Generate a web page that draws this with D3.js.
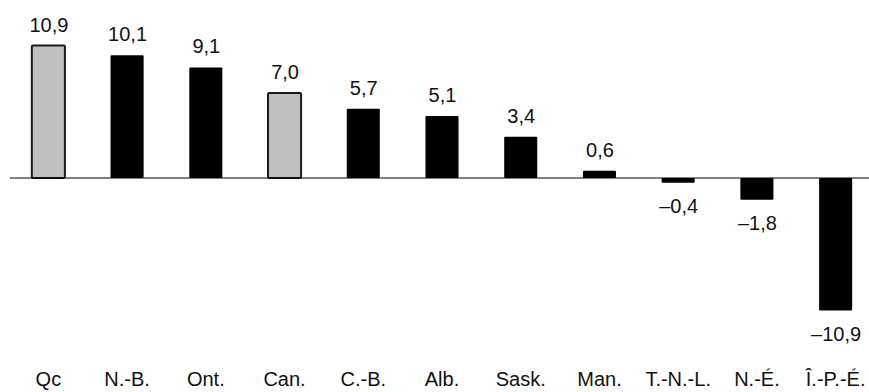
<!DOCTYPE html>
<html>
<head>
<meta charset="utf-8">
<script src="https://cdn.jsdelivr.net/npm/d3@7"></script>
<style>
  body { margin: 0; background: #fff; }
  text { font-family: "Liberation Sans", Arial, sans-serif; }
</style>
</head>
<body>
<div id="chart"></div>
<script>
var provinces = ['Qc', 'N.-B.', 'Ont.', 'Can.', 'C.-B.', 'Alb.', 'Sask.', 'Man.', 'T.-N.-L.', 'N.-É.', 'Î.-P.-É.'];
var values = [10.9, 10.1, 9.1, 7.0, 5.7, 5.1, 3.4, 0.6, -0.4, -1.8, -10.9];
var highlighted = ['Qc', 'Can.'];

var chart_width = 869;
var chart_height = 392;
var baseline_y = 178;

var svg = d3.select('#chart')
    .append('svg')
    .attr('width', chart_width)
    .attr('height', chart_height);

var x_scale = d3.scaleBand()
    .domain(provinces)
    .range([9, 875])
    .paddingInner(0.58)
    .paddingOuter(0.29);

var y_scale = d3.scaleLinear()
    .domain([-10.9, 10.9])
    .range([baseline_y + 132.4, baseline_y - 132.4]);

var fmt = function (v) {
    var s = Math.abs(v).toFixed(1).replace('.', ',');
    return v < 0 ? '\u2013' + s : s;
};

// bars
svg.selectAll('rect.bar')
    .data(values)
    .enter()
    .append('rect')
    .attr('class', 'bar')
    .attr('x', function (d, i) { return x_scale(provinces[i]); })
    .attr('y', function (d) { return y_scale(Math.max(d, 0)); })
    .attr('width', x_scale.bandwidth())
    .attr('height', function (d) { return Math.abs(y_scale(d) - y_scale(0)); })
    .attr('rx', 1)
    .attr('fill', function (d, i) {
        return highlighted.indexOf(provinces[i]) >= 0 ? '#c0c0c0' : '#000';
    })
    .attr('stroke', function (d, i) {
        return highlighted.indexOf(provinces[i]) >= 0 ? '#1a1a1a' : 'none';
    })
    .attr('stroke-width', 2);

// zero line
svg.append('line')
    .attr('x1', 10)
    .attr('x2', chart_width)
    .attr('y1', y_scale(0))
    .attr('y2', y_scale(0))
    .attr('stroke', '#000')
    .attr('stroke-width', 1);

// value labels
svg.selectAll('text.value')
    .data(values)
    .enter()
    .append('text')
    .attr('class', 'value')
    .attr('x', function (d, i) { return x_scale(provinces[i]) + x_scale.bandwidth() / 2 + 0.5; })
    .attr('y', function (d) {
        return d >= 0 ? y_scale(d) - 14 : y_scale(d) + 30.5;
    })
    .attr('text-anchor', 'middle')
    .attr('font-size', '20px')
    .attr('fill', '#111')
    .text(fmt);

// category labels
svg.selectAll('text.cat')
    .data(provinces)
    .enter()
    .append('text')
    .attr('class', 'cat')
    .attr('x', function (d) { return x_scale(d) + x_scale.bandwidth() / 2; })
    .attr('y', 386)
    .attr('text-anchor', 'middle')
    .attr('font-size', '20px')
    .attr('fill', '#111')
    .text(function (d) { return d; });
</script>
</body>
</html>
